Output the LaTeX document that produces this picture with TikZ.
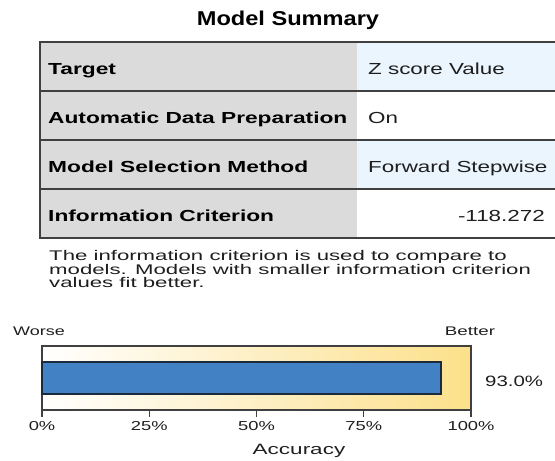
\documentclass[tikz,border=0pt]{standalone}
\usepackage{fontspec}
\usepackage{graphicx}
\setmainfont{Liberation Sans}
\usetikzlibrary{shadings}
\definecolor{gridline}{HTML}{404040}
\definecolor{labelgray}{HTML}{DBDBDC}
\definecolor{valblue}{HTML}{EBF5FE}
\definecolor{bargold}{HTML}{FCE08A}
\definecolor{barblue}{HTML}{4281C4}
\definecolor{bardark}{HTML}{1C2A3C}
\definecolor{txt}{HTML}{1E1E1E}
\newcommand{\sxt}[2]{\scalebox{#1}[1]{#2}}
\tikzset{
  lbl/.style={anchor=base west, inner sep=0pt, text=black, font=\fontsize{16}{16}\selectfont\bfseries},
  val/.style={anchor=base west, inner sep=0pt, text=txt, font=\fontsize{16}{16}\selectfont},
  para/.style={anchor=base west, inner sep=0pt, text=txt, font=\fontsize{14}{14}\selectfont},
  ticklbl/.style={anchor=base, inner sep=0pt, text=txt, font=\fontsize{13}{13}\selectfont},
  grid/.style={draw=gridline, line width=1.3pt},
}
\begin{document}
\begin{tikzpicture}[x=1pt,y=-1pt]
\useasboundingbox (0,0) rectangle (555,461);
\clip (0,0) rectangle (555,461);
% title
\node[anchor=base, inner sep=0pt, text=black, font=\fontsize{20}{20}\selectfont\bfseries] (title) at (288,25) {\sxt{1.18}{Model Summary}};
% table fills
\fill[labelgray] (40,42) rectangle (357,238);
\fill[valblue] (357,42) rectangle (560,91);
\fill[white] (357,91) rectangle (560,140);
\fill[valblue] (357,140) rectangle (560,189);
\fill[white] (357,189) rectangle (560,238);
% table lines
\draw[grid] (560,42) -- (40,42) -- (40,238) -- (560,238);
\draw[grid] (40,91) -- (560,91);
\draw[grid] (40,140) -- (560,140);
\draw[grid] (40,189) -- (560,189);
% row labels
\node[lbl] (l1) at (48,74) {\sxt{1.42}{Target}};
\node[lbl] (l2) at (48,123) {\sxt{1.42}{Automatic Data Preparation}};
\node[lbl] (l3) at (48,172) {\sxt{1.42}{Model Selection Method}};
\node[lbl] (l4) at (48,221) {\sxt{1.42}{Information Criterion}};
% values
\node[val] (v1) at (368,74) {\sxt{1.4}{Z score Value}};
\node[val] (v2) at (368,123) {\sxt{1.4}{On}};
\node[val] (v3) at (368,172) {\sxt{1.4}{Forward Stepwise}};
\node[val, anchor=base east] (v4) at (545,221) {\sxt{1.4}{-118.272}};
% paragraph
\node[para] (p1) at (49,260.7) {\sxt{1.585}{The information criterion is used to compare to}};
\node[para] (p2) at (49,274.3) {\sxt{1.585}{models. Models with smaller information criterion}};
\node[para] (p3) at (49,287.7) {\sxt{1.585}{values fit better.}};
% bar chart
\node[anchor=base west, inner sep=0pt, text=txt, font=\fontsize{12.5}{12.5}\selectfont] (worse) at (13,335) {\sxt{1.44}{Worse}};
\node[anchor=base, inner sep=0pt, text=txt, font=\fontsize{12.5}{12.5}\selectfont] (better) at (470,335) {\sxt{1.5}{Better}};
\shade[left color=white, right color=bargold] (42,346) rectangle (471,410);
\draw[draw=gridline, line width=1.2pt] (42,346) rectangle (471,410);
\draw[fill=barblue, draw=bardark, line width=1.2pt] (42,362) rectangle (441,394);
\node[anchor=base west, inner sep=0pt, text=txt, font=\fontsize{15}{15}\selectfont] (pct) at (485,386) {\sxt{1.36}{93.0\%}};
% ticks
\foreach \t/\lab [count=\i] in {42/0\%,149.25/25\%,256.5/50\%,363.75/75\%,471/100\%}{
  \draw[draw=gridline, line width=1.2pt] (\t,410) -- (\t,417);
  \node[ticklbl] (tick\i) at (\t,430) {\sxt{1.41}{\lab}};
}
\node[anchor=base, inner sep=0pt, text=txt, font=\fontsize{15}{15}\selectfont] (acc) at (299,454) {\sxt{1.5}{Accuracy}};
\end{tikzpicture}
\end{document}
